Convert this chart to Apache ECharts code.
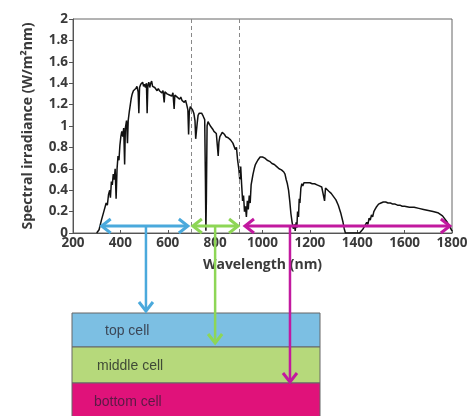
<!DOCTYPE html>
<html>
<head>
<meta charset="utf-8">
<script src="https://cdn.jsdelivr.net/npm/echarts@6/dist/echarts.min.js"></script>
<style>html,body{margin:0;padding:0;background:#fff}#c{width:474px;height:416px}</style>
</head>
<body>
<div id="c"></div>
<script>
// ---- data ----
const wavelength = [300,310,320,330,340,345,350,355,358,362,366,370,374,378,382,386,390,394,398,402,406,410,414,418,421,426,430,433,438,442,446,450,455,460,465,470,475,478,481,486,490,494,498,502,506,510,513,516,520,524,528,532,536,540,545,550,555,560,565,570,575,580,585,588,592,597,602,607,612,617,622,627,630,635,640,645,650,655,660,665,670,675,680,685,688,691,695,700,705,710,715,718,721,724,728,733,738,743,748,752,756,759,761,763,766,770,775,780,785,790,795,800,805,810,813,816,820,825,830,835,840,845,850,855,860,865,870,875,880,885,890,895,900,904,908,912,916,920,924,928,932,936,940,944,948,952,956,960,965,970,975,980,990,1000,1010,1020,1030,1040,1050,1060,1070,1080,1090,1095,1100,1105,1110,1115,1120,1125,1130,1135,1138,1142,1145,1148,1152,1155,1158,1162,1166,1170,1175,1180,1185,1190,1200,1210,1220,1230,1240,1250,1258,1262,1266,1270,1280,1290,1300,1310,1320,1330,1340,1345,1350,1360,1400,1410,1418,1425,1430,1435,1440,1445,1450,1455,1460,1465,1470,1475,1480,1490,1500,1510,1520,1530,1540,1550,1560,1570,1580,1590,1600,1620,1640,1660,1680,1700,1720,1740,1760,1780,1790,1800];
const irradiance = [0,0.03,0.12,0.2,0.28,0.26,0.36,0.4,0.33,0.48,0.45,0.55,0.5,0.6,0.32,0.6,0.72,0.68,0.82,0.9,0.95,0.9,0.98,0.64,0.98,1.05,0.84,1.05,1.14,1.2,1.26,1.3,1.33,1.32,1.35,1.37,1.32,1.12,1.36,1.39,1.38,1.41,1.37,1.39,1.36,1.40,1.12,1.38,1.41,1.36,1.40,1.42,1.37,1.38,1.36,1.37,1.33,1.35,1.33,1.34,1.31,1.33,1.22,1.32,1.33,1.30,1.31,1.29,1.30,1.28,1.31,1.16,1.29,1.30,1.27,1.28,1.25,1.27,1.24,1.25,1.22,1.24,1.20,1.15,0.92,1.13,1.18,1.17,1.15,1.12,1.05,0.88,0.95,1.02,1.1,1.12,1.13,1.12,1.1,1.08,1.06,0.5,0.02,0.3,1.0,1.04,1.02,1.0,0.99,0.97,0.95,0.96,0.93,0.8,0.72,0.85,0.9,0.92,0.94,0.93,0.92,0.9,0.91,0.89,0.88,0.87,0.86,0.84,0.83,0.78,0.8,0.68,0.6,0.5,0.62,0.45,0.3,0.35,0.2,0.25,0.15,0.3,0.22,0.35,0.28,0.45,0.5,0.55,0.6,0.64,0.66,0.68,0.71,0.71,0.70,0.68,0.67,0.65,0.64,0.62,0.60,0.59,0.57,0.55,0.5,0.46,0.40,0.3,0.18,0.1,0.04,0.08,0.02,0.1,0.05,0.2,0.15,0.32,0.28,0.42,0.46,0.44,0.47,0.46,0.47,0.48,0.47,0.46,0.46,0.45,0.44,0.43,0.43,0.3,0.42,0.41,0.39,0.37,0.34,0.31,0.26,0.19,0.1,0.04,0,0,0,0,0.02,0.04,0.06,0.05,0.1,0.08,0.14,0.12,0.17,0.15,0.2,0.22,0.24,0.27,0.28,0.29,0.29,0.28,0.28,0.27,0.27,0.26,0.26,0.25,0.25,0.24,0.24,0.23,0.22,0.21,0.20,0.19,0.16,0.1,0.06,0.02];
const xTicks = [200,400,600,800,1000,1200,1400,1600,1800];
const yTicks = [0,0.2,0.4,0.6,0.8,1,1.2,1.4,1.6,1.8,2];
const boundaries = [700, 900];
const bandRanges = [[321,685],[706,897],[926,1791]];
const bandStems = [508, 800, 1116];
const bandLevel = 0.065;
const cellNames = ['top cell','middle cell','bottom cell'];

// ---- styles / layout ----
const bandColors = ['#4aa9dc','#8ed656','#c2199f'];
const cellColors = ['#7cbfe3','#b6d97b','#e0127a'];
const cellTextColors = ['#3b4656','#3f4a36','#5b1a45'];
const stemEnds = [311, 343, 382];
const cellTop = 313, cellH = [34, 36, 36], cellLeft = 72, cellRight = 320;

const chart = echarts.init(document.getElementById('c'));
const lab = {fontFamily:'"Open Sans"', fontWeight:'bold', fontSize:13.5, color:'#3a3a3a'};
chart.setOption({
  animation:false,
  grid:{left:73, right:22, top:19, bottom:183, show:true, borderColor:'#666', borderWidth:1},
  xAxis:{type:'value', min:200, max:1800, interval:200,
    axisLine:{lineStyle:{color:'#555', width:1}},
    axisTick:{inside:true, length:3, lineStyle:{color:'#555'}},
    splitLine:{show:false},
    axisLabel:Object.assign({margin:3, customValues:xTicks, formatter:v=>String(v)}, lab),
    name:'Wavelength (nm)', nameLocation:'middle', nameGap:25,
    nameTextStyle:Object.assign({}, lab, {fontSize:14})},
  yAxis:{type:'value', min:0, max:2, interval:0.2,
    axisLine:{show:true, lineStyle:{color:'#555', width:1}},
    axisTick:{show:true, inside:false, length:4, lineStyle:{color:'#555'}},
    splitLine:{show:false},
    axisLabel:Object.assign({margin:5, customValues:yTicks, formatter:v=>String(v)}, lab),
    name:'Spectral irradiance (W/m²nm)', nameLocation:'middle', nameGap:38,
    nameTextStyle:Object.assign({}, lab, {fontSize:14})},
  series:[{
    type:'line', data:wavelength.map((w,i)=>[w, irradiance[i]]),
    showSymbol:false, smooth:false,
    lineStyle:{color:'#111', width:1.5},
    markLine:{silent:true, symbol:'none', label:{show:false},
      lineStyle:{color:'#888', type:[4,3], width:1},
      data:boundaries.map(b=>({xAxis:b}))}
  }]
});

const P = (x,y)=>chart.convertToPixel({gridIndex:0},[x,y]);
const g = [];
let yy = cellTop;
cellNames.forEach((n,i)=>{
  g.push({type:'rect', z:1, shape:{x:cellLeft, y:yy, width:cellRight-cellLeft, height:cellH[i]},
    style:{fill:cellColors[i], stroke:'#666', lineWidth:1}});
  g.push({type:'text', z:2, x:[105,97,94][i], y:yy+cellH[i]/2+1,
    style:{text:n, fill:cellTextColors[i], font:'14px "Liberation Sans", Arial', verticalAlign:'middle'}});
  yy += cellH[i];
});
bandRanges.forEach((r,i)=>{
  const a = P(r[0], bandLevel), b = P(r[1], bandLevel);
  const y = a[1], c = bandColors[i];
  const st = {stroke:c, lineWidth:3, fill:null, lineJoin:'miter'};
  g.push({type:'polyline', z:5, shape:{points:[[a[0]+1,y],[b[0]-1,y]]}, style:st});
  g.push({type:'polyline', z:5, shape:{points:[[a[0]+9,y-7],[a[0],y],[a[0]+9,y+7]]}, style:st});
  g.push({type:'polyline', z:5, shape:{points:[[b[0]-9,y-7],[b[0],y],[b[0]-9,y+7]]}, style:st});
  const sx = P(bandStems[i], bandLevel)[0], ye = stemEnds[i];
  g.push({type:'polyline', z:5, shape:{points:[[sx,y],[sx,ye-1]]}, style:{stroke:c, lineWidth:2.5}});
  g.push({type:'polyline', z:5, shape:{points:[[sx-7,ye-9],[sx,ye],[sx+7,ye-9]]}, style:st});
});
chart.setOption({graphic:g});
</script>
</body>
</html>
